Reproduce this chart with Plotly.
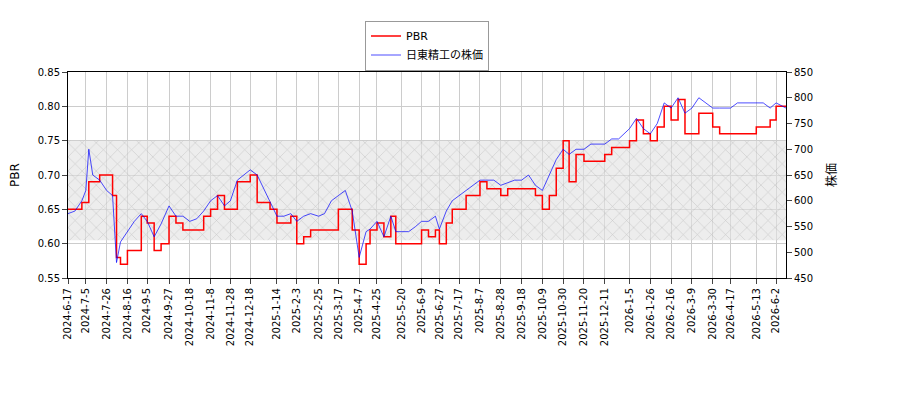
import plotly.graph_objects as go

dates = ["2024-06-17","2024-06-24","2024-07-01","2024-07-05","2024-07-08","2024-07-12","2024-07-19","2024-07-26","2024-08-01","2024-08-05","2024-08-09","2024-08-16","2024-08-23","2024-08-30","2024-09-05","2024-09-12","2024-09-19","2024-09-27","2024-10-04","2024-10-11","2024-10-18","2024-10-25","2024-11-01","2024-11-08","2024-11-15","2024-11-22","2024-11-28","2024-12-05","2024-12-12","2024-12-18","2024-12-25","2025-01-07","2025-01-14","2025-01-21","2025-01-28","2025-02-03","2025-02-10","2025-02-17","2025-02-25","2025-03-03","2025-03-10","2025-03-17","2025-03-24","2025-03-31","2025-04-07","2025-04-14","2025-04-18","2025-04-25","2025-05-02","2025-05-09","2025-05-14","2025-05-20","2025-05-27","2025-06-03","2025-06-09","2025-06-16","2025-06-23","2025-06-27","2025-07-04","2025-07-10","2025-07-17","2025-07-24","2025-07-31","2025-08-07","2025-08-14","2025-08-21","2025-08-28","2025-09-04","2025-09-11","2025-09-18","2025-09-25","2025-10-02","2025-10-09","2025-10-16","2025-10-23","2025-10-30","2025-11-05","2025-11-12","2025-11-20","2025-11-27","2025-12-04","2025-12-11","2025-12-18","2025-12-25","2026-01-05","2026-01-12","2026-01-19","2026-01-26","2026-02-02","2026-02-09","2026-02-16","2026-02-23","2026-03-02","2026-03-09","2026-03-16","2026-03-23","2026-03-30","2026-04-06","2026-04-17","2026-04-24","2026-05-01","2026-05-13","2026-05-20","2026-05-27","2026-06-02","2026-06-12"]
price = [575,580,600,620,700,650,640,620,610,480,520,540,560,575,560,530,555,590,570,570,560,565,580,600,610,590,600,640,650,660,650,600,570,570,575,560,570,575,570,575,600,610,620,580,490,540,545,560,530,570,540,540,540,550,560,560,570,545,580,600,610,620,630,640,640,640,630,635,640,640,650,630,620,650,680,700,690,700,700,710,710,710,720,720,740,760,740,730,750,790,780,800,770,780,800,790,780,780,780,790,790,790,790,780,790,780]
pbr = [0.65,0.65,0.66,0.66,0.69,0.69,0.70,0.70,0.67,0.58,0.57,0.59,0.59,0.64,0.63,0.59,0.60,0.64,0.63,0.62,0.62,0.62,0.64,0.65,0.67,0.65,0.65,0.69,0.69,0.70,0.66,0.65,0.63,0.63,0.64,0.60,0.61,0.62,0.62,0.62,0.62,0.65,0.65,0.62,0.57,0.60,0.62,0.63,0.61,0.64,0.60,0.60,0.60,0.60,0.62,0.61,0.62,0.60,0.63,0.65,0.65,0.67,0.67,0.69,0.68,0.68,0.67,0.68,0.68,0.68,0.68,0.67,0.65,0.67,0.71,0.75,0.69,0.73,0.72,0.72,0.72,0.73,0.74,0.74,0.75,0.78,0.76,0.75,0.77,0.80,0.78,0.81,0.76,0.76,0.79,0.79,0.77,0.76,0.76,0.76,0.76,0.77,0.77,0.78,0.80,0.80]
tick_vals = ["2024-06-17","2024-07-05","2024-07-26","2024-08-16","2024-09-05","2024-09-27","2024-10-18","2024-11-08","2024-11-28","2024-12-18","2025-01-14","2025-02-03","2025-02-25","2025-03-17","2025-04-07","2025-04-25","2025-05-20","2025-06-09","2025-06-27","2025-07-17","2025-08-07","2025-08-28","2025-09-18","2025-10-09","2025-10-30","2025-11-20","2025-12-11","2026-01-05","2026-01-26","2026-02-16","2026-03-09","2026-03-30","2026-04-17","2026-05-13","2026-06-02"]
tick_text = [f"{d[:4]}-{int(d[5:7])}-{int(d[8:])}" for d in tick_vals]
band = [0.605, 0.75]

fig = go.Figure()
x0, x1 = "2024-06-17", "2026-06-12"
fig.add_trace(go.Scatter(x=[x0, x1, x1, x0, x0], y=[band[0], band[0], band[1], band[1], band[0]],
    fill="toself", mode="lines", line=dict(width=0), fillcolor="rgba(0,0,0,0)",
    fillpattern=dict(shape="x", fgcolor="#999999", size=10, solidity=0.1, bgcolor="rgba(225,225,225,0.6)"),
    showlegend=False, hoverinfo="skip"))
fig.add_trace(go.Scatter(x=dates, y=pbr, name="PBR", mode="lines", line=dict(color="red", width=1.5, shape="hv")))
fig.add_trace(go.Scatter(x=dates, y=price, name="日東精工の株価", mode="lines", line=dict(color="blue", width=0.7), yaxis="y2"))

fnt = dict(family="DejaVu Sans, Noto Sans CJK JP", size=10, color="black")
fig.update_layout(
    width=900, height=400, margin=dict(l=60, r=122, t=60, b=130),
    plot_bgcolor="white", paper_bgcolor="white", font=fnt,
    legend=dict(x=0.5, y=1.25, xanchor="center", yanchor="top", bordercolor="#999", borderwidth=1, font=dict(size=11)),
    xaxis=dict(range=[x0, x1], tickvals=tick_vals, ticktext=tick_text, tickangle=-90, showgrid=True, automargin=False,
               gridcolor="#cccccc", showline=True, linecolor="black", mirror=True, ticks="outside"),
    yaxis=dict(range=[0.55, 0.85], dtick=0.05, tickformat=".2f", title=dict(text="PBR"), showgrid=True, automargin=False,
               gridcolor="#cccccc", showline=True, linecolor="black", ticks="outside"),
    yaxis2=dict(range=[450, 850], dtick=50, overlaying="y", side="right", title=dict(text="株価"), automargin=False,
                showgrid=False, showline=True, linecolor="black", ticks="outside"),
)
fig.write_html("out.html")
